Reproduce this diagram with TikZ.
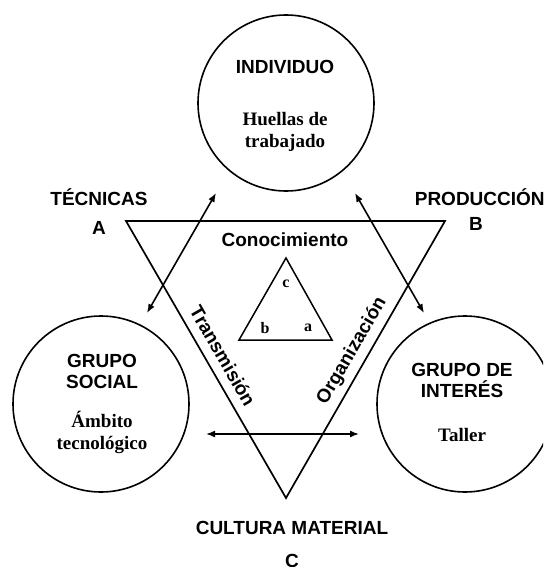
\documentclass[tikz,border=0pt]{standalone}
\usepackage{fontspec}
\setmainfont{Liberation Serif}
\setsansfont{Liberation Sans}
\usepackage{tikz}
\usetikzlibrary{positioning, arrows.meta}
\tikzset{
	x = 1pt,
	y = -1pt,
	>={Latex[length=9pt,width=7pt]},
	sphere/.style={
		draw,
		circle,
		line width=1.6pt,
		minimum size=176pt,
		inner sep=0pt
	},
	head/.style={
		font=\sffamily\bfseries\fontsize{19}{21.5}\selectfont,
		align=center,
		inner sep=0pt
	},
	sub/.style={
		font=\rmfamily\bfseries\fontsize{19}{21.5}\selectfont,
		align=center,
		inner sep=0pt
	},
	tiny label/.style={
		font=\rmfamily\bfseries\fontsize{16}{18}\selectfont,
		inner sep=0pt
	},
	link/.style={
		<->,
		line width=1.6pt
	}
}

\begin{document}
\begin{tikzpicture}[line width=1.7pt]
		\clip (0,0) rectangle (543,567);

\node[sphere] (indiv) at (286,103) {};
\node[sphere] (social) at (101,404) {};
\node[sphere] (interes) at (465,404) {};

\node[head] (indivT) at (285,67) {INDIVIDUO};
\node[sub] (indivS) at (285,132) {Huellas de\\trabajado};
\node[head] (socialT) at (102,371.5) {GRUPO\\SOCIAL};
\node[sub] (socialS) at (102,432.5) {Ámbito\\tecnológico};
\node[head] (interesT) at (462,380.5) {GRUPO DE\\INTERÉS};
\node[sub] (interesS) at (462,435) {Taller};

\coordinate (ta) at (126,221);
\coordinate (tb) at (445,221);
\coordinate (tc) at (286,498);
\draw[line join=miter] (ta) -- (tb) -- (tc) -- cycle;

\coordinate (sc) at (286,258);
\coordinate (sb) at (239,340);
\coordinate (sa) at (332,340);
\draw[line width=1.5pt] (sc) -- (sa) -- (sb) -- cycle;

\node[head] (tecn) at (99,197) {TÉCNICAS};
\node[head, below = 14pt of tecn.south] (lA) {A};
\node[head, anchor=west] (prod) at (414,197) {PRODUCCIÓN};
\node[head] (lB) at (476,224) {B};
\node[head] (cult) at (292,528) {CULTURA MATERIAL};
\node[head, below = 18pt of cult.south] (lC) {C};
\node[head] (conoc) at (285,240) {Conocimiento};

\node[tiny label] (lc) at (286,284) {c};
\node[tiny label] (lb) at (265,328) {b};
\node[tiny label] (la) at (308,328) {a};

\node[head, rotate=-60] (trans) at (223,356) {Transmisión};
\node[head, rotate=60] (organ) at (352,351) {Organización};

\coordinate (l1) at (216,193);
\coordinate (l2) at (147,313);
\coordinate (r1) at (355,193);
\coordinate (r2) at (424,313);
\coordinate (m1) at (206,434);
\coordinate (m2) at (359,434);
\draw[link] (l1) -- (l2);
\draw[link] (r1) -- (r2);
\draw[link] (m1) -- (m2);
	\end{tikzpicture}
\end{document}
